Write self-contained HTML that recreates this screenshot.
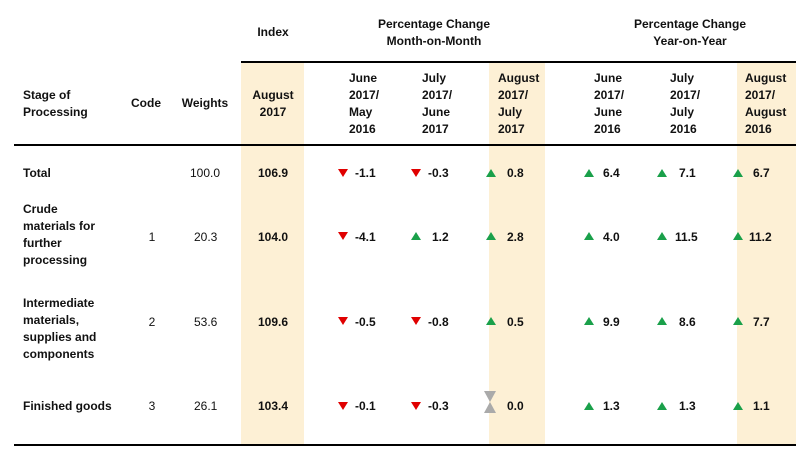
<!DOCTYPE html>
<html><head><meta charset="utf-8"><style>
body{margin:0;width:807px;height:455px;background:#fff;position:relative;overflow:hidden;font-family:"Liberation Sans",sans-serif;font-size:12px;font-weight:bold;color:#111}
.a{position:absolute;white-space:nowrap;line-height:17px}
.c{text-align:center;transform:translateX(-50%)}
.hl{position:absolute;top:61px;height:383px;background:#fdf0d5}
.ln{position:absolute;height:1.5px;background:#000}
.dn{position:absolute;width:0;height:0;border-left:5px solid transparent;border-right:5px solid transparent;border-top:8px solid #e00000}
.up{position:absolute;width:0;height:0;border-left:5px solid transparent;border-right:5px solid transparent;border-bottom:8px solid #1aa04a}
.n{font-weight:normal}
</style></head><body>
<div class="hl" style="left:241px;width:63px"></div>
<div class="hl" style="left:489px;width:56px"></div>
<div class="hl" style="left:737px;width:59px"></div>
<div class="ln" style="left:241px;width:555px;top:61px"></div>
<div class="ln" style="left:14px;width:782px;top:144px"></div>
<div class="ln" style="left:14px;width:782px;top:444px"></div>

<div class="a c" style="left:273px;top:24px">Index</div>
<div class="a c" style="left:434px;top:16px">Percentage Change<br>Month-on-Month</div>
<div class="a c" style="left:690px;top:16px">Percentage Change<br>Year-on-Year</div>

<div class="a" style="left:23px;top:87px">Stage of<br>Processing</div>
<div class="a c" style="left:146px;top:95px">Code</div>
<div class="a c" style="left:205px;top:95px">Weights</div>
<div class="a c" style="left:273px;top:87px">August<br>2017</div>
<div class="a" style="left:349px;top:70px">June<br>2017/<br>May<br>2016</div>
<div class="a" style="left:422px;top:70px">July<br>2017/<br>June<br>2017</div>
<div class="a" style="left:498px;top:70px">August<br>2017/<br>July<br>2017</div>
<div class="a" style="left:594px;top:70px">June<br>2017/<br>June<br>2016</div>
<div class="a" style="left:670px;top:70px">July<br>2017/<br>July<br>2016</div>
<div class="a" style="left:745px;top:70px">August<br>2017/<br>August<br>2016</div>

<!-- rows -->
<div class="a" style="left:23px;top:165px">Total</div>
<div class="a n" style="left:190px;top:165px">100.0</div>
<div class="a c" style="left:273px;top:165px">106.9</div>

<div class="a" style="left:23px;top:201px">Crude<br>materials for<br>further<br>processing</div>
<div class="a c n" style="left:152px;top:229px">1</div>
<div class="a n" style="left:194px;top:229px">20.3</div>
<div class="a c" style="left:273px;top:229px">104.0</div>

<div class="a" style="left:23px;top:295px">Intermediate<br>materials,<br>supplies and<br>components</div>
<div class="a c n" style="left:152px;top:314px">2</div>
<div class="a n" style="left:194px;top:314px">53.6</div>
<div class="a c" style="left:273px;top:314px">109.6</div>

<div class="a" style="left:23px;top:398px">Finished goods</div>
<div class="a c n" style="left:152px;top:398px">3</div>
<div class="a n" style="left:194px;top:398px">26.1</div>
<div class="a c" style="left:273px;top:398px">103.4</div>

<!-- Total -->
<div class="dn" style="left:338px;top:169px"></div><div class="a" style="left:355px;top:165px">-1.1</div>
<div class="dn" style="left:411px;top:169px"></div><div class="a" style="left:428px;top:165px">-0.3</div>
<div class="up" style="left:486px;top:169px"></div><div class="a" style="left:507px;top:165px">0.8</div>
<div class="up" style="left:584px;top:169px"></div><div class="a" style="left:603px;top:165px">6.4</div>
<div class="up" style="left:657px;top:169px"></div><div class="a" style="left:679px;top:165px">7.1</div>
<div class="up" style="left:733px;top:169px"></div><div class="a" style="left:753px;top:165px">6.7</div>
<!-- Crude -->
<div class="dn" style="left:338px;top:232px"></div><div class="a" style="left:355px;top:229px">-4.1</div>
<div class="up" style="left:411px;top:232px"></div><div class="a" style="left:432px;top:229px">1.2</div>
<div class="up" style="left:486px;top:232px"></div><div class="a" style="left:507px;top:229px">2.8</div>
<div class="up" style="left:584px;top:232px"></div><div class="a" style="left:603px;top:229px">4.0</div>
<div class="up" style="left:657px;top:232px"></div><div class="a" style="left:675px;top:229px">11.5</div>
<div class="up" style="left:733px;top:232px"></div><div class="a" style="left:749px;top:229px">11.2</div>
<!-- Intermediate -->
<div class="dn" style="left:338px;top:317px"></div><div class="a" style="left:355px;top:314px">-0.5</div>
<div class="dn" style="left:411px;top:317px"></div><div class="a" style="left:428px;top:314px">-0.8</div>
<div class="up" style="left:486px;top:317px"></div><div class="a" style="left:507px;top:314px">0.5</div>
<div class="up" style="left:584px;top:317px"></div><div class="a" style="left:603px;top:314px">9.9</div>
<div class="up" style="left:657px;top:317px"></div><div class="a" style="left:679px;top:314px">8.6</div>
<div class="up" style="left:733px;top:317px"></div><div class="a" style="left:753px;top:314px">7.7</div>
<!-- Finished -->
<div class="dn" style="left:338px;top:402px"></div><div class="a" style="left:355px;top:398px">-0.1</div>
<div class="dn" style="left:411px;top:402px"></div><div class="a" style="left:428px;top:398px">-0.3</div>
<svg style="position:absolute;left:484px;top:391px" width="12" height="22"><polygon points="0,0 12,0 6,11" fill="#aaa"/><polygon points="0,22 12,22 6,11" fill="#aaa"/></svg>
<div class="a" style="left:507px;top:398px">0.0</div>
<div class="up" style="left:584px;top:402px"></div><div class="a" style="left:603px;top:398px">1.3</div>
<div class="up" style="left:657px;top:402px"></div><div class="a" style="left:679px;top:398px">1.3</div>
<div class="up" style="left:733px;top:402px"></div><div class="a" style="left:753px;top:398px">1.1</div>
</body></html>
